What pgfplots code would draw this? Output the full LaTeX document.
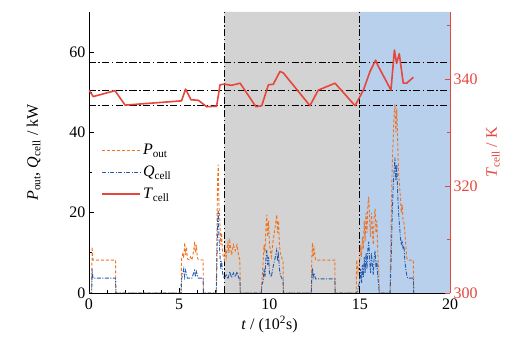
\documentclass[border=0pt]{standalone}
\usepackage{pgfplots}
\pgfplotsset{compat=1.18}
\usepackage{fontspec}
\setmainfont{Liberation Serif}
\definecolor{porange}{RGB}{240,115,35}
\definecolor{qblue}{RGB}{40,90,170}
\definecolor{tred}{RGB}{230,70,60}
\definecolor{bandgray}{RGB}{211,211,211}
\definecolor{bandblue}{RGB}{185,208,236}
\tikzset{ddot/.style={dash pattern=on 7pt off 2.5pt on 1.5pt off 2.5pt}}
\begin{document}
\begin{tikzpicture}
\path[use as bounding box] (-89pt,-57pt) rectangle (433pt,293pt);
\begin{axis}[
  at={(0pt,0pt)}, anchor=south west,
  scale only axis, width=361pt, height=281pt,
  xmin=0, xmax=20, ymin=0, ymax=70,
  axis x line*=bottom, axis y line*=left,
  x axis line style={-}, y axis line style={-},
  xtick={0,5,10,15,20}, minor x tick num=4,
  ytick={0,20,40,60}, minor y tick num=1,
  tick align=inside, major tick length=5pt, minor tick length=3pt,
  tick style={black, line width=0.8pt},
  /pgf/number format/assume math mode=true,
  tick label style={font=\fontsize{16}{19}\selectfont},
  xticklabel style={yshift=-2pt},
  label style={font=\fontsize{16}{19}\selectfont},
  xlabel={\textit{t} / (10\textsuperscript{2}s)},
  ylabel={\textit{P}\textsubscript{out}, \textit{Q}\textsubscript{cell} / kW},
  ylabel style={yshift=22pt},
  legend style={at={(0.025,0.545)}, anchor=north west, draw=none, fill=none,
    font=\fontsize{16}{19}\selectfont, row sep=6pt},
  legend cell align=left,
  legend image code/.code={\draw[#1] (0pt,0pt) -- (38pt,0pt);},
]
\addplot[fill=bandgray, draw=none, forget plot] coordinates {(7.5,0) (15,0) (15,70) (7.5,70)} \closedcycle;
\addplot[fill=bandblue, draw=none, forget plot] coordinates {(15,0) (20,0) (20,70) (15,70)} \closedcycle;
\addplot[black, ddot, line width=0.8pt, forget plot] coordinates {(7.5,0) (7.5,70)};
\addplot[black, ddot, line width=0.8pt, forget plot] coordinates {(15,0) (15,70)};
\addplot[porange, dash pattern=on 3pt off 2pt, line width=0.9pt] coordinates {
(0,0) (0.15,0) (0.17,11.5) (0.22,8.2) (1.47,8.2) (1.49,0) (5.1,0)
(5.13,8.5) (5.2,10) (5.25,8.7) (5.3,12.5) (5.35,9.5) (5.4,11.5) (5.45,8.5) (5.55,8.3) (5.62,9) (5.7,8.2)
(5.8,10.5) (5.85,12.8) (5.9,10) (5.95,12) (6.0,9) (6.05,8.3) (6.32,8.2) (6.34,0) (7.05,0)
(7.07,8) (7.12,28) (7.16,32) (7.2,22) (7.25,18) (7.3,12) (7.35,15) (7.4,10) (7.45,9) (7.5,8.2)
(7.55,11) (7.6,9) (7.7,12.5) (7.75,10) (7.8,12.8) (7.9,9.5) (8.0,12) (8.1,10.5) (8.2,12) (8.3,9) (8.36,8.2) (8.38,0)
(9.55,0) (9.57,2) (9.65,8) (9.7,12) (9.75,10) (9.8,16) (9.85,19.5) (9.9,14) (9.95,18) (10.0,12) (10.1,9)
(10.2,13) (10.3,16) (10.4,19.5) (10.45,15) (10.5,18) (10.55,12) (10.6,10) (10.7,8.5) (10.75,8) (10.77,0)
(12.32,0) (12.34,8) (12.38,12.5) (12.42,9) (12.47,11) (12.55,8.2) (13.62,8.2) (13.64,0)
(14.8,0) (14.83,8.2) (14.9,5) (15.0,8) (15.05,12) (15.1,9) (15.15,14) (15.2,11) (15.25,18) (15.3,13)
(15.35,20) (15.4,15) (15.45,22) (15.5,24) (15.55,18) (15.6,14) (15.65,20) (15.7,16) (15.75,12) (15.8,19)
(15.85,21) (15.9,15) (15.95,18) (16.0,10) (16.05,6) (16.08,0) (16.68,0)
(16.7,8) (16.75,20) (16.8,32) (16.85,38) (16.9,44) (16.95,47) (17.0,40) (17.05,46) (17.1,38) (17.15,30)
(17.2,27) (17.25,24) (17.3,20) (17.35,22) (17.4,18) (17.45,17.5) (17.5,15) (17.55,12) (17.6,9) (17.65,8.2)
(17.97,8.2) (17.99,0)
};
\addlegendentry{\textit{P}\textsubscript{out}}
\addplot[qblue, dash pattern=on 4pt off 1.5pt on 1pt off 1.5pt, line width=0.9pt] coordinates {
(0,0) (0.15,0) (0.17,6) (0.22,3.7) (1.47,3.7) (1.49,0) (5.1,0)
(5.13,3.5) (5.25,6) (5.3,4) (5.35,5.6) (5.45,3.7) (5.7,3.7) (5.8,5) (5.85,5.6) (5.9,4) (5.95,5.3) (6.05,3.7)
(6.32,3.7) (6.34,0) (7.05,0)
(7.07,3) (7.12,17) (7.16,20.5) (7.2,14) (7.25,10) (7.3,6) (7.35,8) (7.4,5) (7.45,4) (7.5,3.7)
(7.6,4.5) (7.7,3.5) (7.8,5.3) (7.9,3.8) (8.0,5) (8.1,4) (8.2,5.3) (8.3,3.7) (8.36,3.7) (8.38,0)
(9.55,0) (9.57,2) (9.65,3) (9.7,6) (9.75,4) (9.8,8.5) (9.85,10.7) (9.9,7) (9.95,9) (10.0,5) (10.1,4)
(10.2,6.5) (10.3,8.5) (10.4,10.7) (10.45,8) (10.5,9.5) (10.55,6) (10.6,4.5) (10.7,3.5) (10.75,3.5) (10.77,0)
(12.32,0) (12.34,3.5) (12.38,6.2) (12.42,4) (12.47,5) (12.55,3.5) (13.62,3.5) (13.64,0)
(14.83,0) (14.9,1) (15.0,3) (15.05,6) (15.1,2.5) (15.15,7) (15.2,4) (15.25,9) (15.3,5) (15.35,10) (15.4,6)
(15.45,11) (15.5,12.8) (15.55,8) (15.6,5) (15.65,10) (15.7,7) (15.75,4.5) (15.8,9) (15.85,10.5) (15.9,6)
(15.95,8) (16.0,4) (16.05,2) (16.08,0) (16.68,0)
(16.7,3) (16.75,10) (16.8,20) (16.85,26) (16.9,30) (16.95,33.7) (17.0,28) (17.05,32) (17.1,25) (17.15,20)
(17.2,17) (17.25,14) (17.3,12) (17.35,13) (17.4,11) (17.45,11.6) (17.5,8) (17.55,6) (17.6,4.5) (17.65,3.7)
(17.97,3.7) (17.99,0)
};
\addlegendentry{\textit{Q}\textsubscript{cell}}
\addlegendimage{legend image code/.code={\draw[tred, line width=1.8pt, solid] (0pt,0pt) -- (38pt,0pt);}}
\addlegendentry{\textit{T}\textsubscript{cell}}
\end{axis}
\begin{axis}[
  at={(0pt,0pt)}, anchor=south west,
  scale only axis, width=361pt, height=281pt,
  xmin=0, xmax=20, ymin=300, ymax=352.5,
  axis x line=none, axis y line*=right,
  y axis line style={-, tred, line width=0.8pt},
  ytick={300,320,340}, minor ytick={310,330,350},
  tick align=inside, major tick length=5pt, minor tick length=3pt,
  tick style={tred, line width=0.8pt},
  /pgf/number format/assume math mode=true,
  tick label style={font=\fontsize{16}{19}\selectfont, text=tred},
  label style={font=\fontsize{16}{19}\selectfont, text=tred},
  ylabel={\textit{T}\textsubscript{cell} / K},
  ylabel style={yshift=-2pt},
]
\addplot[black, ddot, line width=0.8pt] coordinates {(0,343) (20,343)};
\addplot[black, ddot, line width=0.8pt] coordinates {(0,337.9) (20,337.9)};
\addplot[black, ddot, line width=0.8pt] coordinates {(0,335) (20,335)};
\addplot[tred, line width=1.6pt, line join=round] coordinates {
(0,337.9) (0.24,336.7) (1.44,337.8) (2.0,335.1) (5.13,335.9) (5.35,338.1) (5.65,336.1) (6.06,336)
(6.52,334.8) (7.07,334.9) (7.26,338.9) (7.43,339) (7.53,339) (7.9,338.8) (8.37,339.2) (9.25,334.8)
(9.57,335) (9.94,338.9) (10.21,339) (10.58,341.4) (10.77,341.1) (12.24,335) (12.7,337.9) (13.63,339.2)
(14.74,335) (15.2,337.9) (15.57,341.4) (15.88,343.5) (15.99,342.6) (16.73,337.9) (16.92,345.4)
(17.04,342.9) (17.19,344.7) (17.41,339.2) (17.6,339.2) (17.97,340.3)
};
\end{axis}
\end{tikzpicture}
\end{document}
